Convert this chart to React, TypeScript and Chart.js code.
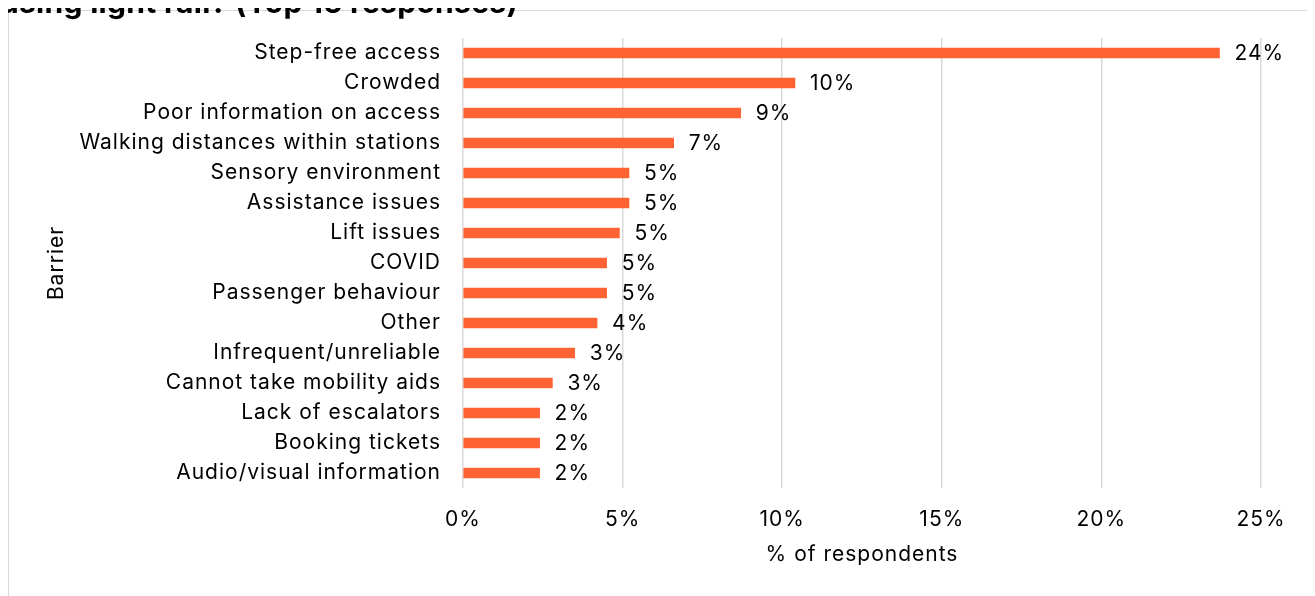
import React, { useEffect, useRef } from "react";
import { Chart, registerables } from "chart.js";

Chart.register(...registerables);

const categories = [
  "Step-free access",
  "Crowded",
  "Poor information on access",
  "Walking distances within stations",
  "Sensory environment",
  "Assistance issues",
  "Lift issues",
  "COVID",
  "Passenger behaviour",
  "Other",
  "Infrequent/unreliable",
  "Cannot take mobility aids",
  "Lack of escalators",
  "Booking tickets",
  "Audio/visual information",
];

const values = [23.7, 10.4, 8.7, 6.6, 5.2, 5.2, 4.9, 4.5, 4.5, 4.2, 3.5, 2.8, 2.4, 2.4, 2.4];

const valueLabels = ["24%", "10%", "9%", "7%", "5%", "5%", "5%", "5%", "5%", "4%", "3%", "3%", "2%", "2%", "2%"];

const xTicks = [0, 5, 10, 15, 20, 25];

const FONT = "Inter, 'Noto Sans', sans-serif";
const FSIZE = 21;
const SPACING = "1px";

const spacingPlugin = {
  id: "letterSpacing",
  beforeLayout(chart: any) {
    chart.ctx.letterSpacing = SPACING;
  },
  beforeDraw(chart: any) {
    chart.ctx.letterSpacing = SPACING;
  },
};

const labelPlugin = {
  id: "valueLabels",
  afterDatasetsDraw(chart: any) {
    const ctx = chart.ctx;
    const meta = chart.getDatasetMeta(0);
    ctx.save();
    ctx.letterSpacing = SPACING;
    ctx.font = `${FSIZE}px ${FONT}`;
    ctx.fillStyle = "#000";
    ctx.textAlign = "left";
    ctx.textBaseline = "middle";
    meta.data.forEach((bar: any, i: number) => {
      ctx.fillText(valueLabels[i], bar.x + 15, bar.y + 1);
    });
    ctx.restore();
  },
};

export default function App() {
  const ref = useRef<HTMLCanvasElement>(null);
  useEffect(() => {
    if (!ref.current) return;
    const chart = new Chart(ref.current, {
      type: "bar",
      data: {
        labels: categories,
        datasets: [
          {
            data: values,
            backgroundColor: "#FF6333",
            borderWidth: 0,
            barThickness: 10,
          },
        ],
      },
      options: {
        indexAxis: "y",
        responsive: false,
        animation: false,
        layout: { padding: { left: 0, right: 52, top: 27, bottom: 0 } },
        plugins: { legend: { display: false }, tooltip: { enabled: false } },
        scales: {
          x: {
            min: 0,
            max: 25,
            afterBuildTicks(scale: any) {
              scale.ticks = xTicks.map((v) => ({ value: v }));
            },
            afterFit(scale: any) {
              scale.height = 108;
            },
            grid: { color: "#d9d9d9", lineWidth: 1.5, drawTicks: false },
            border: { display: false },
            ticks: {
              padding: 19,
              color: "#000",
              font: { family: FONT, size: FSIZE },
              callback: (v: any) => v + "%",
            },
            title: {
              display: true,
              text: "% of respondents",
              color: "#000",
              font: { family: FONT, size: FSIZE },
              padding: { top: 0, bottom: 29 },
            },
          },
          y: {
            afterFit(scale: any) {
              scale.width = 454;
              scale.paddingTop = 0;
              scale.paddingBottom = 0;
            },
            grid: { display: false, drawTicks: false },
            border: { display: false },
            ticks: {
              padding: 22,
              color: "#000",
              font: { family: FONT, size: FSIZE },
            },
            title: {
              display: true,
              text: "Barrier",
              color: "#000",
              font: { family: FONT, size: FSIZE },
              padding: { top: 35, bottom: 0 },
            },
          },
        },
      },
      plugins: [spacingPlugin, labelPlugin],
    });
    return () => chart.destroy();
  }, []);

  return (
    <div style={{ position: "relative", paddingTop: 2 }}>
      <div
        style={{
          position: "absolute",
          zIndex: 2,
          left: -8,
          top: -18,
          fontFamily: FONT,
          fontWeight: 700,
          fontSize: 30,
          letterSpacing: "0.3px",
          lineHeight: "24px",
          whiteSpace: "nowrap",
          color: "#000",
        }}
      >
        using light rail? (Top 15 responses)
      </div>
      <div style={{ position: "relative", border: "1px solid #d9d9d9", width: 1304, height: 590, background: "#fff" }}>
        <canvas ref={ref} width={1304} height={585} style={{ display: "block" }} />
      </div>
    </div>
  );
}
